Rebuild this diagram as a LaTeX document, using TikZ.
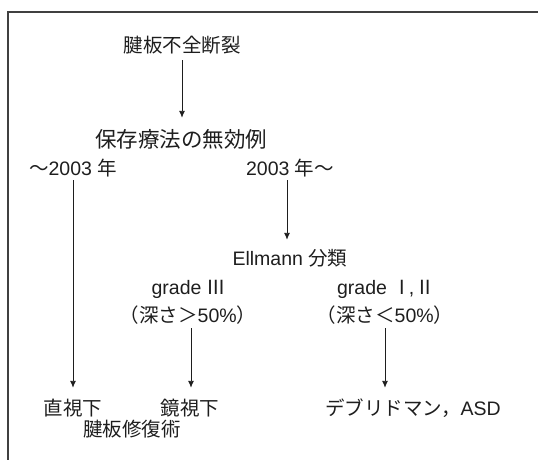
\documentclass[tikz,border=0pt]{standalone}
\usepackage{fontspec}
\setmainfont{Liberation Sans}
\newfontfamily\jp{Noto Sans CJK JP}
\usetikzlibrary{arrows.meta}
\definecolor{ink}{HTML}{1E1E1E}
\tikzset{
  lbl/.style={inner sep=0pt, text height=17.6pt, text depth=2.4pt, font=\fontsize{19.5}{22}\selectfont, text=ink},
  arr/.style={draw=ink, line width=0.9pt, -{Latex[length=7pt,width=6pt]}},
}
\begin{document}
\begin{tikzpicture}[x=1pt,y=-1pt]
\useasboundingbox (0,0) rectangle (538,460);
\draw[draw=ink!85, line width=1.1pt] (8,460) -- (8,12) -- (538,12);
\node[lbl] (t) at (182,45) {\jp 腱板不全断裂};
\node[lbl, font=\fontsize{21.5}{24}\selectfont] (h) at (181,140) {\jp 保存療法の無効例};
\node[lbl] (y1) at (73,168) {{\jp 〜}2003 {\jp 年}};
\node[lbl] (y2) at (290,168) {2003 {\jp 年〜}};
\node[lbl] (e) at (290,258) {Ellmann {\jp 分類}};
\node[lbl] (g3) at (189,287) {grade {\jp Ⅲ}};
\node[lbl] (g12) at (386,287) {grade {\jp Ⅰ}\kern-3pt,\kern1pt{\jp Ⅱ}};
\node[lbl] (p3) at (188,315) {{\jp （深さ＞}50\%{\jp ）}};
\node[lbl] (p12) at (385,315) {{\jp （深さ＜}50\%{\jp ）}};
\node[lbl] (d1) at (73,408) {\jp 直視下};
\node[lbl] (d2) at (190,408) {\jp 鏡視下};
\node[lbl] (d3) at (413,408) {{\jp デブリドマン，}ASD};
\node[lbl] (rep) at (132,429) {\jp 腱板修復術};
\draw[arr, shorten <=5pt, shorten >=12pt] (t.south) -- (t.south |- h.north);
\draw[arr, shorten <=2pt, shorten >=10pt] (y1.south) -- (y1.south |- d1.north);
\draw[arr, shorten <=2pt, shorten >=8pt] ([xshift=-3pt]y2.south) -- ([xshift=-3pt]y2.south |- e.north);
\draw[arr, shorten <=3pt, shorten >=10pt] ([xshift=3pt]p3.south) -- ([xshift=3pt]p3.south |- d2.north);
\draw[arr, shorten <=3pt, shorten >=10pt] (p12.south) -- (p12.south |- d3.north);
\end{tikzpicture}
\end{document}
